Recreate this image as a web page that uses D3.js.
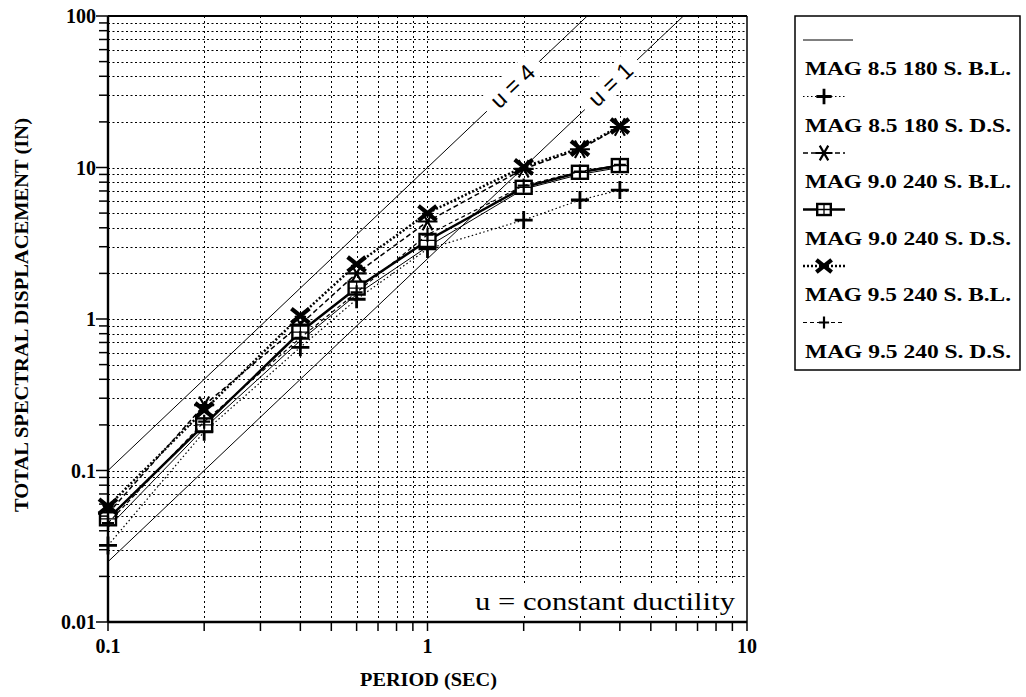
<!DOCTYPE html>
<meta charset="utf-8">
<html>
<head>
<style>
  body { margin: 0; background: #fff; }
  text { font-family: "Liberation Serif", "Times New Roman", serif; fill: #000; }
  .bold { font-weight: bold; }
</style>
</head>
<body>
<div id="chart"></div>
<script src="https://cdn.jsdelivr.net/npm/d3@7"></script>
<script>

  // Data
  var periods = [0.1, 0.2, 0.4, 0.6, 1, 2, 3, 4];
  var seriesNames = ["MAG 8.5 180 S. B.L.", "MAG 8.5 180 S. D.S.", "MAG 9.0 240 S. B.L.",
                     "MAG 9.0 240 S. D.S.", "MAG 9.5 240 S. B.L.", "MAG 9.5 240 S. D.S."];
  var mag85BL = [0.042, 0.19, 0.72, 1.45, 3.0, 7.2, 9.0, 10.0];
  var mag85DS = [0.032, 0.18, 0.65, 1.35, 2.9, 4.5, 6.1, 7.1];
  var mag90BL = [0.052, 0.27, 0.92, 2.0, 4.4, 9.8, 13.2, 18.5];
  var mag90DS = [0.048, 0.2, 0.82, 1.6, 3.3, 7.4, 9.3, 10.3];
  var mag95BL = [0.058, 0.25, 1.05, 2.3, 5.0, 10.1, 13.4, 18.8];
  var mag95DS = [0.045, 0.21, 0.75, 1.5, 3.6, 7.6, 9.4, 10.4];
  var seriesValues = [mag85BL, mag85DS, mag90BL, mag90DS, mag95BL, mag95DS];

  // constant ductility lines: D = k * T^2
  var ductilityLabels = ["u = 4", "u = 1"];
  var ductilityK = [10, 2.5];
  var yTicks = [0.01, 0.1, 1, 10, 100];
  var xTicks = [0.1, 1, 10];

  // styles per series
  var styles = [
    {dash: null, width: 1, marker: "none"},
    {dash: "1.5,2.5", width: 1.2, marker: "plus"},
    {dash: "5,3", width: 1.5, marker: "star"},
    {dash: null, width: 2.5, marker: "square"},
    {dash: "2,2", width: 2.5, marker: "cross"},
    {dash: "4,3", width: 1.2, marker: "smallplus"}
  ];

  var margin = {top: 16, right: 279, bottom: 75, left: 108},
      width = 1026 - margin.left - margin.right,
      height = 697 - margin.top - margin.bottom;

  var root = d3.select("#chart").append("svg")
      .attr("width", 1026)
      .attr("height", 697);

  var svg = root.append("g")
      .attr("transform", "translate(" + margin.left + "," + margin.top + ")");

  var x = d3.scaleLog().domain([0.1, 10]).range([0, width]);
  var y = d3.scaleLog().domain([0.01, 100]).range([height, 0]);

  // all minor values (1..9 per decade)
  function minors(lo, hi) {
    var out = [];
    for (var e = lo; e < hi; e++) {
      for (var m = 1; m <= 9; m++) out.push(m * Math.pow(10, e));
    }
    out.push(Math.pow(10, hi));
    return out;
  }
  var xMinor = minors(-1, 1), yMinor = minors(-2, 2);

  // dotted grid
  svg.append("g").selectAll("line.gx")
    .data(xMinor.slice(1, -1)).enter().append("line")
      .attr("x1", function(d) { return Math.round(x(d)) + 0.5; }).attr("x2", function(d) { return Math.round(x(d)) + 0.5; })
      .attr("y1", 0).attr("y2", height)
      .attr("stroke", "#000").attr("stroke-width", 1)
      .attr("stroke-dasharray", "2,3");
  svg.append("g").selectAll("line.gy")
    .data(yMinor.slice(1, -1)).enter().append("line")
      .attr("y1", function(d) { return Math.round(y(d)) + 0.5; }).attr("y2", function(d) { return Math.round(y(d)) + 0.5; })
      .attr("x1", 0).attr("x2", width)
      .attr("stroke", "#000").attr("stroke-width", 1)
      .attr("stroke-dasharray", "2,2.5");

  svg.append("clipPath").attr("id", "clip")
    .append("rect").attr("width", width).attr("height", height);

  // constant ductility lines
  var dl = svg.append("g").attr("clip-path", "url(#clip)");
  ductilityK.forEach(function(k) {
    dl.append("line")
      .attr("x1", x(0.1)).attr("y1", y(k * 0.01))
      .attr("x2", x(10)).attr("y2", y(k * 100))
      .attr("stroke", "#000").attr("stroke-width", 1);
  });

  var angle = -Math.atan2(y(1) - y(100), x(10) - x(1)) * 180 / Math.PI;
  var labelAt = [1.85, 3.75];
  ductilityK.forEach(function(k, i) {
    var t = labelAt[i];
    var g = svg.append("g")
      .attr("transform", "translate(" + x(t) + "," + y(k * t * t) + ") rotate(" + angle + ")");
    g.append("rect").attr("x", -36).attr("y", -14).attr("width", 72).attr("height", 24).attr("fill", "#fff");
    g.append("text")
      .attr("text-anchor", "middle").attr("dy", "0.32em")
      .style("font-family", "'Liberation Sans', Arial, sans-serif")
      .style("font-size", "23px")
      .text(ductilityLabels[i]);
  });

  // marker drawing
  function drawMarker(g, type, cx, cy, s) {
    s = s || 1;
    if (type === "plus") {
      g.append("path").attr("d", "M" + (cx - 9*s) + "," + cy + "H" + (cx + 9*s) + "M" + cx + "," + (cy - 9*s) + "V" + (cy + 9*s))
        .attr("stroke", "#000").attr("stroke-width", 2.8).attr("fill", "none");
    } else if (type === "smallplus") {
      g.append("path").attr("d", "M" + (cx - 6*s) + "," + cy + "H" + (cx + 6*s) + "M" + cx + "," + (cy - 7*s) + "V" + (cy + 7*s))
        .attr("stroke", "#000").attr("stroke-width", 2.2).attr("fill", "none");
    } else if (type === "star") {
      var r = 10 * s, a = r * 0.87, b = r * 0.5;
      g.append("path").attr("d", "M" + (cx - r) + "," + cy + "H" + (cx + r) +
          "M" + (cx - b) + "," + (cy - a) + "L" + (cx + b) + "," + (cy + a) +
          "M" + (cx + b) + "," + (cy - a) + "L" + (cx - b) + "," + (cy + a))
        .attr("stroke", "#000").attr("stroke-width", 2.2).attr("fill", "none");
    } else if (type === "cross") {
      var c = 9 * s;
      g.append("path").attr("d", "M" + (cx - c) + "," + (cy - c * 0.8) + "L" + (cx + c) + "," + (cy + c * 0.8) +
          "M" + (cx + c) + "," + (cy - c * 0.8) + "L" + (cx - c) + "," + (cy + c * 0.8))
        .attr("stroke", "#000").attr("stroke-width", 4.2).attr("fill", "none");
    } else if (type === "square") {
      g.append("rect").attr("x", cx - 8*s).attr("y", cy - 6.5*s).attr("width", 16*s).attr("height", 13*s)
        .attr("fill", "#fff").attr("stroke", "#000").attr("stroke-width", 2.4);
      g.append("path").attr("d", "M" + (cx - 8*s) + "," + cy + "H" + (cx + 8*s) + "M" + cx + "," + (cy - 6.5*s) + "V" + (cy + 6.5*s))
        .attr("stroke", "#000").attr("stroke-width", 1.3);
    }
  }

  // series lines and markers
  var line = d3.line()
    .x(function(d) { return x(d[0]); })
    .y(function(d) { return y(d[1]); });

  seriesValues.forEach(function(vals, i) {
    var pts = periods.map(function(p, j) { return [p, vals[j]]; });
    var st = styles[i];
    svg.append("path").datum(pts)
      .attr("fill", "none").attr("stroke", "#000")
      .attr("stroke-width", st.width)
      .attr("stroke-dasharray", st.dash)
      .attr("d", line);
    var mg = svg.append("g");
    pts.forEach(function(p) { drawMarker(mg, st.marker, x(p[0]), y(p[1])); });
  });

  // "u = constant ductility" note
  svg.append("rect").attr("x", 360).attr("y", 570).attr("width", 274).attr("height", 30).attr("fill", "#fff");
  svg.append("text")
    .attr("x", 367).attr("y", 594)
    .style("font-size", "25px")
    .attr("textLength", 260).attr("lengthAdjust", "spacingAndGlyphs")
    .text("u = constant ductility");

  // frame
  svg.append("line").attr("x1", 0).attr("x2", width).attr("y1", 0).attr("y2", 0)
    .attr("stroke", "#000").attr("stroke-width", 2.2);
  svg.append("line").attr("x1", width).attr("x2", width).attr("y1", 0).attr("y2", height)
    .attr("stroke", "#000").attr("stroke-width", 1.5);

  // axes
  var xAxis = svg.append("g").attr("transform", "translate(0," + height + ")");
  xAxis.append("line").attr("x1", 0).attr("x2", width).attr("stroke", "#000").attr("stroke-width", 2.4);
  xAxis.selectAll("line.t").data(xMinor).enter().append("line")
    .attr("x1", function(d) { return x(d); }).attr("x2", function(d) { return x(d); })
    .attr("y1", 0).attr("y2", 9).attr("stroke", "#000").attr("stroke-width", 1.5);
  xAxis.selectAll("text").data(xTicks).enter().append("text")
    .attr("class", "bold")
    .attr("x", function(d) { return x(d); }).attr("y", 31)
    .attr("text-anchor", "middle")
    .style("font-size", "20px")
    .text(function(d) { return d3.format("~g")(d); });

  var yAxis = svg.append("g");
  yAxis.append("line").attr("y1", 0).attr("y2", height).attr("stroke", "#000").attr("stroke-width", 2.4);
  yAxis.selectAll("line.t").data(yMinor).enter().append("line")
    .attr("y1", function(d) { return y(d); }).attr("y2", function(d) { return y(d); })
    .attr("x1", function(d) { return yTicks.indexOf(d) >= 0 ? -12 : -9; }).attr("x2", 0)
    .attr("stroke", "#000").attr("stroke-width", 1.5);
  yAxis.selectAll("text").data(yTicks).enter().append("text")
    .attr("class", "bold")
    .attr("x", -12).attr("y", function(d) { return y(d); })
    .attr("dy", "0.35em")
    .attr("text-anchor", "end")
    .style("font-size", "20px")
    .text(function(d) { return d3.format("~g")(d); });

  // axis titles
  root.append("text").attr("class", "bold")
    .attr("x", 360).attr("y", 686)
    .style("font-size", "18px")
    .attr("textLength", 137).attr("lengthAdjust", "spacingAndGlyphs")
    .text("PERIOD (SEC)");
  root.append("text").attr("class", "bold")
    .attr("transform", "translate(28,512) rotate(-90)")
    .style("font-size", "18px")
    .attr("textLength", 394).attr("lengthAdjust", "spacingAndGlyphs")
    .text("TOTAL SPECTRAL DISPLACEMENT (IN)");

  // legend
  var legend = root.append("g").attr("transform", "translate(795,16)");
  legend.append("rect").attr("width", 225).attr("height", 354)
    .attr("fill", "#fff").attr("stroke", "#000").attr("stroke-width", 1.5);
  seriesNames.forEach(function(name, i) {
    var sy = 24 + i * 56.5, st = styles[i];
    var lw = st.marker === "none" ? 50 : 42;
    legend.append("line").attr("x1", 8).attr("x2", 8 + lw).attr("y1", sy).attr("y2", sy)
      .attr("stroke", "#000").attr("stroke-width", st.width)
      .attr("stroke-dasharray", st.dash);
    drawMarker(legend, st.marker, 8 + lw / 2, sy, 0.85);
    legend.append("text").attr("class", "bold")
      .attr("x", 10).attr("y", sy + 35)
      .style("font-size", "18px")
      .attr("textLength", 206).attr("lengthAdjust", "spacingAndGlyphs")
      .text(name);
  });

</script>
</body>
</html>
